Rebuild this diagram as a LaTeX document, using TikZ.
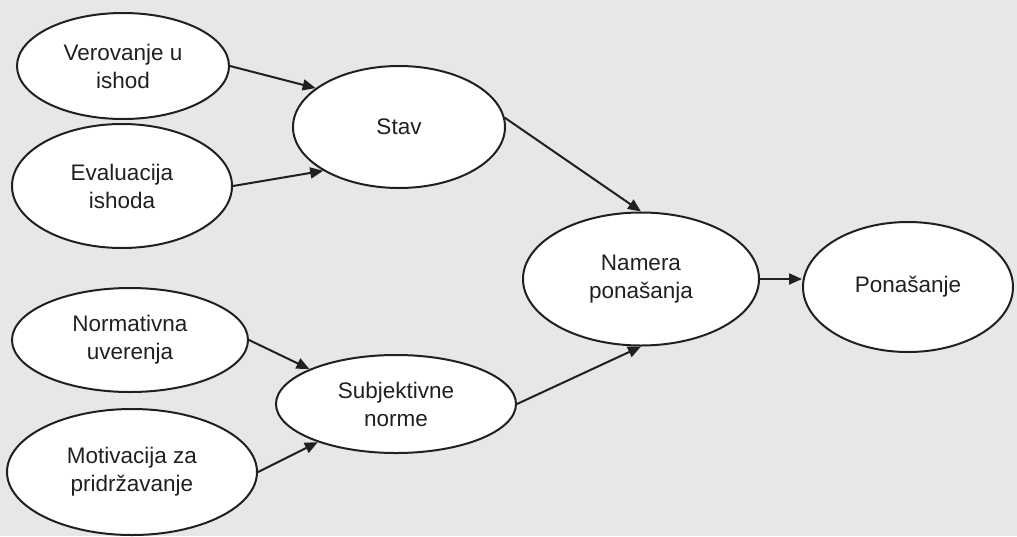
\documentclass[tikz,border=0pt]{standalone}
\usepackage{fontspec}
\setmainfont{Liberation Sans}
\usepackage{tikz}
\usetikzlibrary{shapes.geometric,arrows.meta}
\definecolor{bg}{RGB}{230,231,233}
\definecolor{ink}{RGB}{35,31,32}

\begin{document}
\begin{tikzpicture}[x=1pt, y=-1pt, line width=2pt, draw=ink,
        oval/.style={ellipse, draw=ink, fill=white, inner sep=0pt, align=center,
            text=ink, font=\fontsize{22.5}{28}\selectfont},
        arr/.style={-{Triangle[length=13pt,width=11pt]}, ink}]
        \fill[bg] (0, 0) rectangle (1017, 536);
        \useasboundingbox (0, 0) rectangle (1017, 536);

        \node[oval, minimum width=212, minimum height=106] (ver) at (123, 66) {Verovanje u\\ishod};
        \node[oval, minimum width=220, minimum height=124] (eva) at (122, 186) {Evaluacija\\ishoda};
        \node[oval, minimum width=212, minimum height=122] (stav) at (399, 127) {Stav};

        \node[oval, minimum width=236, minimum height=104] (norm) at (130, 340) {Normativna\\uverenja};
        \node[oval, minimum width=250, minimum height=126] (mot) at (132, 472) {Motivacija za\\pridržavanje};
        \node[oval, minimum width=240, minimum height=98] (subj) at (396, 404) {Subjektivne\\norme};

        \node[oval, minimum width=236, minimum height=133] (nam) at (641, 279) {Namera\\ponašanja};
        \node[oval, minimum width=210, minimum height=130] (pon) at (908, 287) {Ponašanje};

        \draw[arr] (ver.east) to (stav.155);
        \draw[arr] (eva.east) to (stav.210);
        \draw[arr] (stav.5) to (nam.north);

        \draw[arr] (norm.east) to (subj.158);
        \draw[arr] (mot.east) to (subj.206);
        \draw[arr] (subj.east) to (nam.south);

        \draw[arr] (nam.east) to (nam.east -| pon.west);
    \end{tikzpicture}
\end{document}
